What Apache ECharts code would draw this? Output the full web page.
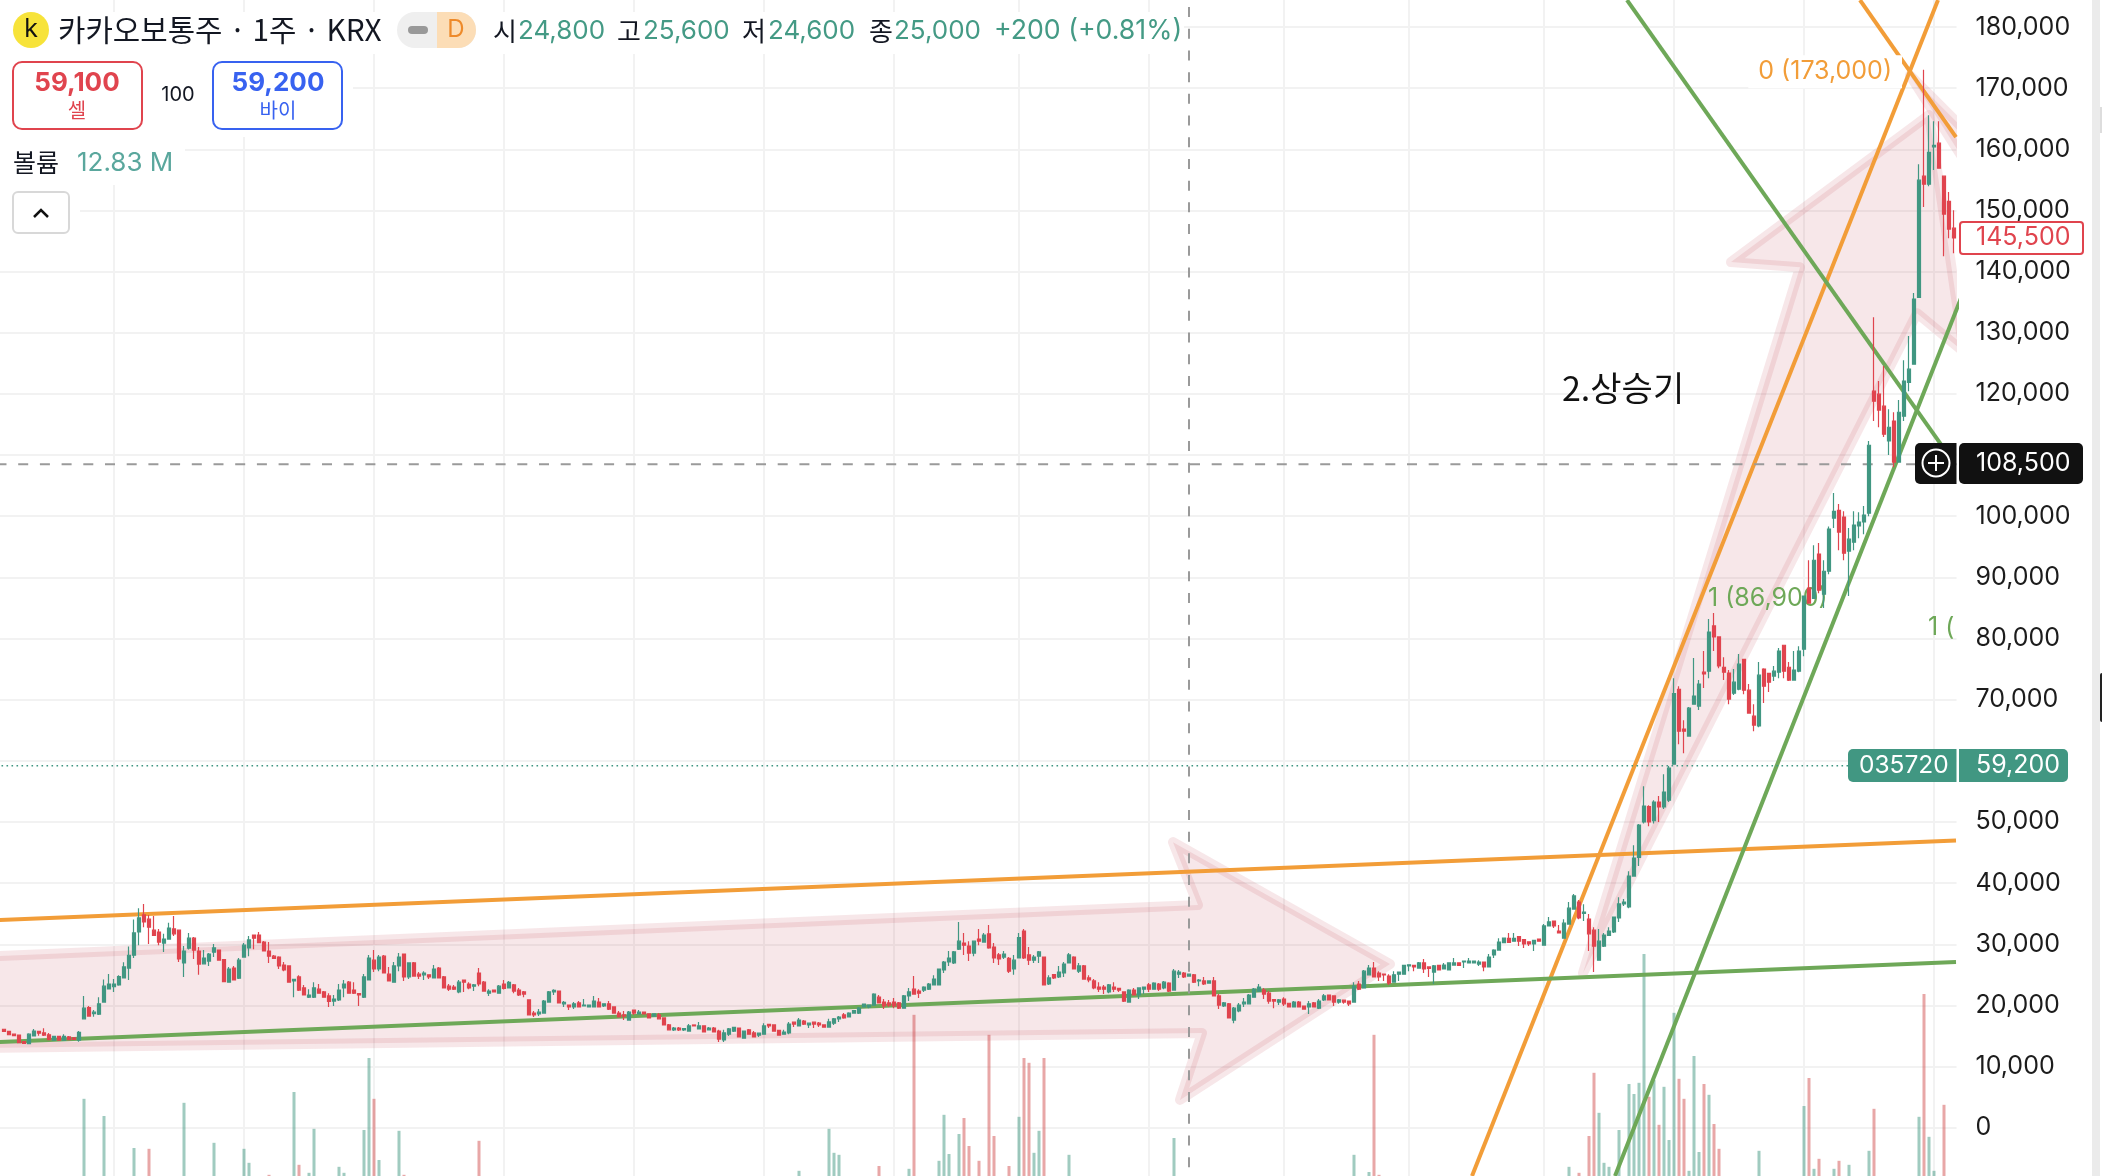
<!DOCTYPE html>
<html><head><meta charset="utf-8">
<style>html,body{margin:0;padding:0;background:#fff}#c{width:2102px;height:1176px}</style>
<script src="https://cdn.jsdelivr.net/npm/echarts@6/dist/echarts.min.js"></script>
</head><body><div id="c"></div>
<script>
const opens=[16100,15750,15300,15150,14100,13750,15000,15750,15500,15200,
14300,14950,14300,14850,14700,14300,17800,19650,18650,18550,
20550,22700,23050,23350,24500,26100,28200,32000,34800,34100,
32300,32000,30200,30850,32500,32300,26950,29350,31000,28900,
26800,27250,28700,29050,27500,23800,26100,24450,27900,29400,
31500,31500,30350,28900,28050,27900,26600,26450,24000,24650,
22850,21350,21350,22650,22200,21550,20700,20900,22850,23800,
22500,21950,21350,24150,27400,25950,28050,25100,23800,26450,
28400,24650,26950,25100,25000,25000,24500,26100,24650,23150,
23000,22200,24150,23500,23150,25300,23800,22000,22500,22000,
23500,22850,23350,22500,22200,20900,18750,18600,18750,20550,
22200,22350,20250,20050,19750,20400,19900,19750,19750,20550,
19900,20250,19750,18750,18450,17600,19250,18600,18900,18600,
18250,18450,17950,16800,16000,16300,16000,15800,16800,16150,
16650,16000,16300,15800,14350,15300,15800,16300,14650,16000,
15500,15150,15300,16900,16800,15900,15300,15500,17250,16650,
17450,16800,17250,17100,16800,16450,17100,17800,18450,18100,
18750,18750,19750,19750,20050,21350,20550,20400,20550,20400,
19550,21550,22650,22350,22500,22650,23350,23350,25800,27100,
26950,29200,30200,29700,28550,30850,30350,31700,29550,28250,
27900,27700,25950,27750,32150,28250,27400,28050,27900,23500,
25050,24650,25300,26950,27900,25600,26450,24500,24000,23000,
23000,22200,23000,22800,22200,20550,22500,21700,22650,23350,
22650,23500,22850,23650,22500,25100,25300,24800,25000,24000,
24000,23650,24000,21550,19900,20250,17600,19100,20250,20250,
21350,22350,22500,22000,20950,20550,21050,20350,19750,20550,
19900,19750,20400,19550,20900,21700,21550,20550,20850,20700,
20550,23500,22850,25000,26100,25300,25100,24800,23800,25100,
25100,26450,26550,26100,26950,26300,25450,26550,25950,25800,
26600,26950,27100,26950,26950,26750,27100,26300,28250,29050,
30250,30950,30500,31250,30750,30400,30050,30850,29850,33000,
33800,32150,31000,33300,35750,36900,35050,34100,32300,27400,
29700,31450,32000,34300,36600,36100,41150,44200,50000,52500,
50200,53250,52450,53550,59450,71700,65200,64050,69250,68950,
74500,74650,82050,80250,75300,74350,71050,71700,76600,71550,
67300,65700,75000,74300,73850,74500,78900,75300,73200,74650,
78250,88250,86550,93800,87250,91000,99700,100950,99850,94300,
95750,98400,99050,100500,120450,119950,118000,112300,115550,108850,
116350,121900,124850,135800,155600,154300,160400,161000,155600,151500,147100];
const closes=[15750,15200,15050,13900,13800,15300,15800,15450,15150,14400,
14950,14300,14950,14400,14450,15600,19550,18250,18900,20250,
23150,23500,23500,24700,26300,28200,31850,34300,33650,32800,
31450,30350,30850,32650,31700,27600,28900,31000,29050,26750,
27750,28400,29400,27400,23900,25950,24150,27400,29850,30700,
31000,30250,28900,28050,27700,26450,25800,23800,24250,22500,
21700,21700,22850,22000,21350,20650,21050,22500,23500,22000,
22000,21700,24650,27750,25950,27900,25300,24000,26450,27900,
24650,26950,24800,24800,25300,24650,25950,24500,22850,22650,
22650,23800,23800,22850,23350,23500,22350,22350,22200,23150,
22800,23750,22350,21700,21850,18450,18450,18900,20700,22200,
22450,20400,20500,19750,20250,19750,20050,20050,20700,19750,
20250,19400,18750,18100,18250,18900,18750,18900,18600,17950,
18600,17800,16800,16000,16300,16000,16200,16650,16650,16650,
15650,16300,15650,14500,15500,16150,16400,14850,15800,15300,
14850,15450,16650,16650,15800,15150,15650,16950,16950,17600,
16950,17100,16950,16800,16450,17300,17800,18100,17950,18750,
19150,19550,20200,20050,21850,20400,19900,20050,19900,19550,
21550,22200,21850,22000,23000,23500,24300,25950,27100,27750,
28750,30500,29850,28550,30500,30500,31500,29400,27750,27600,
28400,25600,27400,31100,27750,27400,27900,28750,23350,24500,
24500,25450,26750,28250,25950,26450,24300,24150,22850,22650,
22650,23350,22650,22500,20700,22500,21700,22850,23000,22650,
23650,22650,23800,22350,25600,25450,24650,25100,23800,24150,
23500,24000,21550,20050,20400,17950,19550,20050,20550,21700,
22650,23000,21850,20700,20700,20900,20250,19750,20550,19750,
19400,20250,19750,20700,21550,20900,20550,20900,20550,20250,
23150,22650,25600,26100,24650,24650,25000,23650,25000,25450,
26550,26650,26300,26950,25950,26050,26450,25800,26600,26950,
26950,26550,27250,27250,27250,27100,26300,27900,29050,30350,
31000,30300,30950,30500,30050,30050,30650,30500,33000,33650,
33000,31850,33450,35900,37900,34300,35250,31700,29700,30500,
31500,32150,34450,36600,36900,41150,44100,49500,52600,50000,
53250,52450,54900,58800,71000,64850,64850,68600,70600,72550,
74200,81050,80250,75500,74500,70100,72850,75800,71550,67800,
65850,74000,72200,72850,74650,77950,74650,73200,74850,77950,
86950,85800,92800,87900,91000,97900,100800,97400,93950,96250,
98550,99050,100200,111600,118800,117350,113400,114550,108850,117000,
122100,124050,135500,154950,154300,159500,160650,156900,149400,146950,145500];
const lows=[15650,15200,15050,13900,13700,13750,15000,15050,15000,14300,
14300,14200,14300,14400,14350,14050,17800,18250,18150,18450,
20550,22700,22200,23200,24500,24150,27750,29850,32800,30050,
31350,29850,28750,30850,31350,27100,24650,29150,27600,25000,
26800,26450,27900,27400,23900,23800,24150,24300,27900,28050,
29200,30250,28900,26950,27600,25950,25600,23800,21350,22350,
21700,21200,21200,22000,21350,19750,19900,20700,21350,22000,
21850,19900,21200,24150,25450,25600,25300,24000,23800,25600,
24000,24300,24800,24300,24150,24300,24500,24500,22850,22350,
22500,22000,22200,22650,22350,23150,22350,21550,22200,22000,
22600,22850,22000,21550,21350,18450,18100,18250,18750,20550,
21700,20400,19750,19250,19400,19750,19900,19750,19750,19750,
19750,19250,18750,18100,17600,17600,18450,18600,18600,17950,
18250,17800,16800,16000,15800,15800,15800,15800,16650,16150,
15650,16000,15650,14000,14000,15000,15650,14850,14650,15300,
14850,14850,15300,16300,15800,15150,15300,15300,16450,16650,
16800,16300,16300,16450,16450,16450,16800,17300,17800,18100,
18750,18600,19750,19550,20050,20400,19400,19750,19550,19400,
19550,20700,21850,21200,22200,22500,23350,23350,25300,26450,
26750,29050,28250,27250,28050,29850,30350,29250,26950,26600,
27600,25300,25000,27750,27600,26600,26950,26950,23350,23350,
24300,24500,24650,26950,25950,25300,24300,23800,22650,22200,
21850,22000,22200,22200,20550,20550,21700,21050,21850,22200,
22650,22350,22650,22200,22500,24500,24500,24800,23650,23150,
23350,23650,21550,19400,19750,17950,17100,18900,19750,20250,
21350,22200,21050,20250,19550,20050,19900,19750,19750,19750,
19400,18600,19750,19400,20700,20900,19900,20250,20250,19900,
20550,22500,22850,25000,24650,24000,24000,23350,23800,24000,
25100,25600,25600,26100,25300,24650,23500,25800,25950,25800,
26600,26550,26100,26950,26950,26450,25600,26300,27750,29050,
30250,30300,30500,29700,29400,29700,28900,30500,29850,33000,
32650,31850,31000,33300,35750,34100,33800,28900,25450,27400,
29550,31350,31850,33650,36250,35900,41150,42800,49750,49300,
49750,50000,52100,53250,59450,62700,61250,64050,69250,68300,
71900,73500,77950,75150,73200,69250,70750,71550,70900,67800,
64850,65500,69450,71250,73050,73500,73500,73050,73200,74500,
77100,85800,86550,87400,85000,90500,98050,94450,92800,86950,
94450,96400,97050,100000,115550,114550,112950,110000,108000,108850,
115550,120450,124850,135800,150550,153950,156600,156900,142500,145450,143000];
const highs=[16100,15750,15300,15150,14100,15450,16150,15750,16250,15500,
14950,14950,15300,15000,14700,15800,21550,19900,19250,21350,
24250,25150,24300,24950,27050,29650,34050,35900,36600,34800,
34600,32500,31700,33500,34600,32300,29700,31850,31200,29550,
29050,28550,30050,29050,27600,26300,26450,27750,30200,31350,
31500,32000,30550,30350,28250,28050,27100,26450,24300,24950,
23350,22650,23800,23500,22350,22000,21700,23500,24150,24000,
23800,21950,25150,28250,29050,28250,28250,26300,27100,28550,
28400,26950,27100,25450,25600,25000,26600,26300,24800,23500,
23350,24150,24150,23800,23500,26100,24000,22650,22500,23350,
24150,24000,23500,22850,22350,20900,19100,19400,20900,22350,
22650,22350,20700,20050,20550,20700,21050,20050,21550,21200,
20250,20700,19750,19100,19100,19100,19250,19250,18900,18600,
18600,18750,17950,16950,16450,16450,16200,16950,16800,17300,
16650,16450,16450,16000,16000,16300,16400,16300,15800,16150,
15800,15450,17100,16900,16800,15900,16000,17300,17250,17950,
17600,17100,17250,17300,16800,17800,17950,18250,18750,18900,
19150,19750,20200,20050,22000,21700,21050,20900,21200,20550,
21700,22850,24800,22650,23150,23650,24950,25950,27250,28900,
28900,33650,31850,30500,30500,32500,31850,33150,30200,28550,
28900,27900,28250,31850,32500,29550,28250,28900,27900,24950,
25050,26450,27100,28550,28050,26950,26600,24950,24300,23800,
23350,23500,23800,22800,22200,22650,22850,22850,23000,23650,
23800,23650,24000,23800,25950,25800,25450,25100,25150,24300,
24650,24000,24650,21850,20550,20400,19750,20400,21200,21850,
22850,23500,22850,22350,20950,21050,21350,20350,20700,20700,
19900,20700,20550,21050,21850,21750,21550,21050,20850,20700,
23800,24000,25800,26600,27100,25600,25100,25100,25600,25450,
26550,26650,26550,27100,27600,26300,26600,26550,26950,26950,
27750,26950,27250,27750,27250,27400,27100,28400,29200,31000,
31000,31850,31850,31250,30750,30400,30650,30850,33300,34450,
33800,33150,34100,36900,38200,37250,36550,34950,32800,32500,
31850,32800,34450,37700,37400,41950,46200,49650,55850,52750,
53550,54250,57800,59150,73500,72200,66650,68800,76800,73200,
77950,83200,84150,80250,76950,74850,75000,77450,76600,72550,
69250,76150,75150,74400,75500,78450,78900,76150,77950,78750,
86950,92800,95250,95600,92800,98300,103800,102000,100800,98050,
100800,100650,101650,112300,132550,122100,124550,117500,117000,119000,
125500,129450,136500,157550,173000,165550,164600,164600,155600,153000,150050];
// visible volume bars, in millions: [candle index, volume]
const volumeBars=[[16,32.3],[20,28],[26,20],[29,19.8],[36,31.3],[42,21.3],[48,19.8],[49,16.3],[53,13.3],[58,34],[59,15.8],[61,13.8],[62,24.8],[67,15.3],[68,13.8],[72,24.5],[73,42.5],[74,32.3],[75,17],[79,24.3],[80,13.3],[95,21.8],
[159,14.3],[165,24.8],[166,18.8],[167,18.3],[175,15.5],[181,14.8],[182,53.3],[187,16.8],[188,28.3],[189,18.5],[191,23.5],[192,27.5],[193,20.5],[195,16.8],[197,48.3],[198,23],
[201,15.5],[203,27.8],[204,42.5],[205,41.3],[206,18.8],[207,24.3],[208,42.5],[213,18.3],[234,22.5],[237,12.83],[270,18.3],[273,14],[274,48.3],[275,13.3],
[313,15.3],[315,13.8],[317,23],[318,38.8],[319,28.8],[320,16.3],[321,15.3],[323,24.5],[325,36],[326,33.5],[327,36.3],[328,68.5],[329,32.8],[330,37],[331,25.8],[332,35.3],[333,22],[334,53.8],[335,37.3],[336,32.3],[337,14.3],[338,43],[339,19],[340,36],[341,33.3],[342,26],[343,19.8],[351,19.3],[360,30.5],[361,37.5],[362,14.8],[363,17.3],[366,14.8],[367,16.8],[369,15.8],[373,19.3],[374,29.8],[383,27.8],[384,58.5],[385,22.8],[386,14.3],[388,30.8]];
const gridTickIndex=[22,48,74,100,126,152,178,203,229,256,281,308,334,360,386];
// drawings in [candle index, price]
const orangeLines=[[[-1.5,33950],[390.4,46950]],[[293.6,-7900],[386.8,184400]],[[371.2,184400],[390.4,162000]]];
const greenLines=[[[-1.5,14000],[390.4,27100]],[[322.2,-7900],[392,136900]],[[324.6,184400],[388.2,110800]]];
const arrowOne=[[-3,28000],[238.8,36400],[233.8,46700],[277.2,26750],[235.2,4550],[239.6,15500],[-3,13050]];
const arrowTwo=[[315.8,25300],[359.2,140700],[345.4,141550],[385,165600],[392,126850],[382.6,133200]];
const arrowThree=[[381.2,172100],[395.2,160650],[395.2,154150]];
const crosshairIndex=237, crosshairPrice=108500, lastPrice=59200;
const fibLabels=[{k:379.6,v:173000,t:'0 (173,000)',c:'#F29D38',a:'right',bg:'#fff'},{k:340.8,v:86900,t:'1 (86,900)',c:'#6EA858',a:'left'},{k:384.8,v:82200,t:'1 (',c:'#6EA858',a:'left'}];
// one empty leading slot lets the plot reach the left edge of the page
const categories=[''].concat(opens.map((_,i)=>String(i)));

const GREEN='#419782',RED='#E0444E',KR='"Noto Sans CJK KR"',INTER='Inter',ORANGE='#F29D38',LG='#6EA858',PINK='rgba(190,70,85,0.13)';
const candleData=[['-','-','-','-']].concat(opens.map((o,i)=>[o,closes[i],lows[i],highs[i]]));
const volumeData=[null].concat(opens.map(()=>null));
volumeBars.forEach(([k,m])=>{volumeData[k+1]={value:m,itemStyle:{color:closes[k]>=opens[k]?'rgba(65,151,130,0.5)':'rgba(210,80,80,0.5)'}};});

function lineSeries(pts,color,z,type,width){return {type:'line',xAxisIndex:1,yAxisIndex:0,data:pts,showSymbol:false,symbol:'none',silent:true,clip:true,z:z,lineStyle:{color:color,width:width,type:type||'solid',cap:'butt'},animation:false};}
function arrowSeries(pts){return {type:'custom',coordinateSystem:'cartesian2d',xAxisIndex:1,yAxisIndex:0,clip:true,silent:true,z:2,data:pts,animation:false,
 renderItem:function(p,api){if(p.dataIndex!==0)return null;return {type:'polygon',shape:{points:pts.map(q=>api.coord(q))},style:{fill:PINK,stroke:PINK,lineWidth:10,lineJoin:'round'}};}};}

const series=[
 {type:'custom',coordinateSystem:'cartesian2d',xAxisIndex:1,yAxisIndex:0,clip:true,silent:true,z:0,data:gridTickIndex.map(k=>[k,0]),animation:false,
  renderItem:function(p,api){const k=api.value(0);const a=api.coord([k,-10000]),b=api.coord([k,190000]);return {type:'line',shape:{x1:a[0],y1:a[1],x2:b[0],y2:b[1]},style:{stroke:'#F2F2F2',lineWidth:2}};}},
 {type:'bar',xAxisIndex:0,yAxisIndex:1,data:volumeData,barWidth:3,z:1,silent:true,animation:false},
 arrowSeries(arrowOne),arrowSeries(arrowTwo),arrowSeries(arrowThree)
];
orangeLines.forEach(l=>series.push(lineSeries(l,ORANGE,3,'solid',4)));
greenLines.forEach(l=>series.push(lineSeries(l,LG,3,'solid',4)));
series.push(lineSeries([[-1.5,crosshairPrice],[390.5,crosshairPrice]],'#9a9a9a',4,[10,11.7],2));
series.push(lineSeries([[crosshairIndex,-10000],[crosshairIndex,190000]],'#9a9a9a',4,[10,11.7],2));
series.push(lineSeries([[-1.5,lastPrice],[390.5,lastPrice]],GREEN,4,[1.6,3.4],1.6));
series.push({type:'custom',coordinateSystem:'cartesian2d',xAxisIndex:1,yAxisIndex:0,clip:true,silent:true,z:4,data:fibLabels.map(f=>[f.k,f.v]),animation:false,
 renderItem:function(p,api){const f=fibLabels[p.dataIndex];const c=api.coord([f.k,f.v]);const st={text:f.t,fill:f.c,font:'25px '+INTER,textAlign:f.a,textVerticalAlign:'middle',align:f.a,verticalAlign:'middle'};if(f.bg){st.backgroundColor=f.bg;st.padding=[4,10,4,10];}return {type:'text',x:c[0],y:c[1]+2,style:st};}});
series.push({type:'candlestick',xAxisIndex:0,yAxisIndex:0,data:candleData,barWidth:3.6,z:5,silent:true,animation:false,itemStyle:{color:GREEN,color0:RED,borderColor:GREEN,borderColor0:RED,borderWidth:1.2}});

function rect(x,y,w,h,fill,stroke,r,lw){return {type:'rect',z:100,silent:true,shape:{x:x,y:y,width:w,height:h,r:r||0},style:{fill:fill,stroke:stroke||null,lineWidth:lw||0}};}
function txt(x,y,t,font,fill,align){align=align||'left';return {type:'text',z:101,silent:true,x:x,y:y,style:{text:t,font:font,fill:fill,textAlign:align,align:align,textVerticalAlign:'middle',verticalAlign:'middle'}};}
const H25='26px '+KR, N25='26px '+INTER, HG='#449A85';
const graphic=[
 rect(0,12,1184,42,'#fff'),rect(0,54,353,83,'#fff'),rect(0,137,185,48,'#fff'),rect(0,185,80,55,'#fff'),
 {type:'circle',z:101,silent:true,shape:{cx:31,cy:30,r:18},style:{fill:'#F7E33A'}},
 txt(31,29,'k','25px '+INTER,'#111','center'),
 txt(58,30,'카카오보통주 · 1주 · KRX','29.8px '+KR,'#131722'),
 rect(397,12,79,36,'#EFEFEF',null,18),
 rect(437,12,39,36,'#FCDDB6',null,[0,18,18,0]),
 rect(408,26,20,8,'#999',null,4),
 txt(456,30,'D','24px '+INTER,'#EE8A2A','center'),
 txt(493,31,'시',H25,'#131722'),txt(518,31,'24,800',N25,HG),
 txt(617,31,'고',H25,'#131722'),txt(643,31,'25,600',N25,HG),
 txt(742,31,'저',H25,'#131722'),txt(768,31,'24,600',N25,HG),
 txt(869,31,'종',H25,'#131722'),txt(894,31,'25,000',N25,HG),
 txt(994,31,'+200 (+0.81%)','26.7px '+INTER,HG),
 rect(13,62,129,67,'#fff',RED,9,2),
 txt(77,83,'59,100','bold 26px '+INTER,RED,'center'),txt(77,110,'셀','20px '+KR,RED,'center'),
 txt(178,95,'100','20px '+INTER,'#131722','center'),
 rect(213,62,129,67,'#fff','#3862F0',9,2),
 txt(278,83,'59,200','bold 26px '+INTER,'#3862F0','center'),txt(278,110,'바이','20px '+KR,'#3862F0','center'),
 txt(13,162,'볼륨','25px '+KR,'#131722'),txt(77,163,'12.83 M','26px '+INTER,'#5AA79D'),
 rect(13,192,56,41,'#fff','#D8D8D8',5,2),
 {type:'polyline',z:101,silent:true,shape:{points:[[34,217],[41,210],[48,217]]},style:{stroke:'#111',lineWidth:2.5,fill:null}},
 txt(1562,388,'2.상승기','34px '+KR,'#111'),
 rect(1960,222,123,32,'#fff',RED,3,2),txt(1976,237,'145,500','25px '+INTER,RED),
 rect(1959,443,124,41,'#111',null,5),txt(1976,463,'108,500','25px '+INTER,'#fff'),
 rect(1915,443,41.5,41,'#111',null,[5,0,0,5]),
 {type:'circle',z:101,silent:true,shape:{cx:1936,cy:463,r:13.5},style:{fill:null,stroke:'#fff',lineWidth:2}},
 {type:'line',z:101,silent:true,shape:{x1:1928,y1:463,x2:1944,y2:463},style:{stroke:'#fff',lineWidth:2}},
 {type:'line',z:101,silent:true,shape:{x1:1936,y1:455,x2:1936,y2:471},style:{stroke:'#fff',lineWidth:2}},
 rect(1848,749,108.5,33,GREEN,null,[5,0,0,5]),
 txt(1859,766,'035720','24.5px '+INTER,'#fff'),
 rect(1959,749,109,33,GREEN,null,[0,5,5,0]),
 txt(1976,765,'59,200','25px '+INTER,'#fff'),
 rect(2092,0,8,1176,'#EBEBEB'),rect(2100,107,2,26,'#DDDDDD'),rect(2100,673,2,49,'#222222',null,[5,0,0,5])
];

const chart=echarts.init(document.getElementById('c'),null,{renderer:'canvas',width:2102,height:1176});
chart.setOption({
 animation:false,backgroundColor:'#fff',
 grid:{left:-3.5,width:1960,top:-34.15,height:1223,containLabel:false,outerBoundsMode:'none'},
 xAxis:[{type:'category',data:categories,show:false,boundaryGap:true},{type:'value',min:-1.5,max:390.5,show:false,splitLine:{show:false}}],
 yAxis:[{type:'value',min:-10000,max:190000,interval:10000,position:'right',axisLine:{show:false},axisTick:{show:false},
   splitLine:{show:true,lineStyle:{color:'#F2F2F2',width:2}},
   axisLabel:{align:'left',margin:19,fontFamily:INTER,fontSize:25,color:'#1c1c1c',formatter:v=>v.toLocaleString('en-US')}},
  {type:'value',min:9.79,max:315.54,show:false,splitLine:{show:false}}],
 series:series,graphic:graphic
});
</script></body></html>
